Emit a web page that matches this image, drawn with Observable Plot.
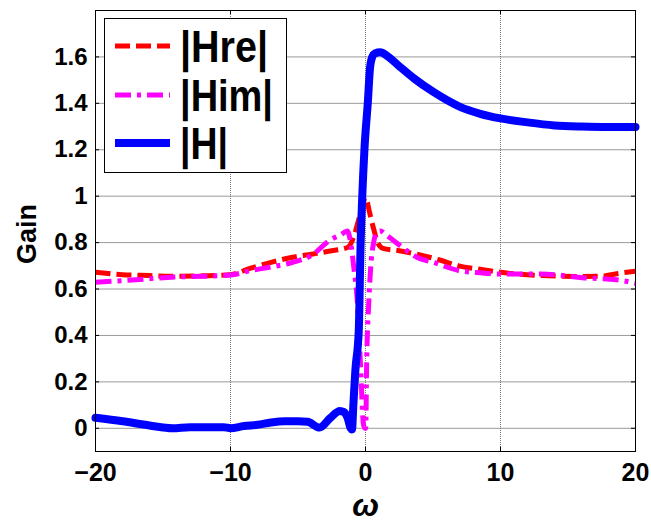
<!DOCTYPE html>
<html>
<head>
<meta charset="utf-8">
<script src="https://cdn.jsdelivr.net/npm/d3@7"></script>
<script src="https://cdn.jsdelivr.net/npm/@observablehq/plot@0.6"></script>
<style>
  html, body { margin: 0; padding: 0; background: #fff; }
  #chart { width: 651px; height: 525px; }
</style>
</head>
<body>
<div id="chart"></div>
<script>
// ---- data ----
const hreOmega = [-20,-18,-16,-14.5,-12,-10,-8.5,-7,-5.4,-4,-2.4,-1.3,-0.9,-0.5,-0.2,0,0.3,0.6,0.9,1.3,2.5,3.8,5.5,6.9,8.5,10,13,16,17.5,18.6,20];
const hreGain  = [0.672,0.662,0.658,0.655,0.657,0.662,0.69,0.715,0.737,0.75,0.766,0.78,0.82,0.9,0.965,0.995,0.93,0.86,0.8,0.775,0.765,0.75,0.725,0.70,0.685,0.672,0.658,0.654,0.655,0.666,0.677];

const himOmega = [-20,-17,-14.7,-12,-10,-8.5,-7,-5.4,-4,-2.65,-1.8,-1.35,-1.1,-0.86,-0.61,-0.36,-0.16,-0.05,0.02,0.08,0.25,0.38,0.6,0.87,1.1,1.6,2.5,3.8,5,6.9,8.5,10,13,16.2,18.6,20];
const himGain  = [0.629,0.64,0.65,0.655,0.66,0.68,0.695,0.715,0.745,0.81,0.835,0.85,0.80,0.69,0.55,0.26,0.02,0.0,0.0,0.26,0.55,0.69,0.80,0.845,0.85,0.83,0.79,0.737,0.715,0.68,0.67,0.665,0.665,0.648,0.64,0.625];

const hOmega = [-20,-18,-16,-14.3,-13,-12,-10.5,-10,-9,-8,-7,-6,-5,-4.3,-3.4,-2.6,-1.9,-1.6,-1.3,-1.1,-1.0,-0.9,-0.75,-0.5,-0.36,-0.24,-0.07,0.18,0.33,0.5,0.7,1.1,1.6,2.5,3.6,5,7,8.5,10,12,14,16,18,20];
const hGain  = [0.045,0.03,0.012,0.0,0.005,0.005,0.005,0.0,0.01,0.015,0.025,0.03,0.03,0.028,0.003,0.045,0.075,0.07,0.04,0.0,-0.005,0.1,0.25,0.42,0.8,1.0,1.21,1.41,1.55,1.6,1.615,1.62,1.605,1.56,1.507,1.45,1.385,1.355,1.335,1.318,1.305,1.3,1.298,1.298];

const seriesNames = ["|Hre|", "|Him|", "|H|"];
const seriesColors = ["#ff0000", "#ff00ff", "#0000ff"];
const xTicks = [-20, -10, 0, 10, 20];
const yTicks = [0, 0.2, 0.4, 0.6, 0.8, 1, 1.2, 1.4, 1.6];
const yTickLabels = ["0", "0.2", "0.4", "0.6", "0.8", "1", "1.2", "1.4", "1.6"];
const xLabel = "ω";
const yLabel = "Gain";

const hre = hreOmega.map((x, i) => ({x, y: hreGain[i]}));
const him = himOmega.map((x, i) => ({x, y: himGain[i]}));
const hh  = hOmega.map((x, i) => ({x, y: hGain[i]}));

const font = "'Liberation Sans', Arial, sans-serif";
const xDom = [-20, 20], yDom = [-0.1, 1.8];
const tx = 0.3, ty = 0.018;

const plot = Plot.plot({
  width: 651,
  height: 525,
  marginLeft: 95,
  marginRight: 16,
  marginTop: 10,
  marginBottom: 74,
  style: {fontFamily: font, background: "#fff", overflow: "visible"},
  x: {domain: xDom},
  y: {domain: yDom},
  marks: [
    Plot.gridY(yTicks, {stroke: "#9a9a9a", strokeOpacity: 1, strokeWidth: 1}),
    Plot.gridX(xTicks.slice(1, -1), {stroke: "#555", strokeOpacity: 1, strokeWidth: 0.8, strokeDasharray: "1,1"}),
    // inward ticks
    Plot.ruleY(yTicks, {y: d => d, x1: xDom[0], x2: xDom[0] + tx, stroke: "#000"}),
    Plot.ruleY(yTicks, {y: d => d, x1: xDom[1] - tx, x2: xDom[1], stroke: "#000"}),
    Plot.ruleX(xTicks, {x: d => d, y1: yDom[0], y2: yDom[0] + ty, stroke: "#000"}),
    Plot.ruleX(xTicks, {x: d => d, y1: yDom[1] - ty, y2: yDom[1], stroke: "#000"}),
    Plot.axisY(yTicks, {tickSize: 0, tickPadding: 8, tickFormat: d => yTickLabels[yTicks.indexOf(d)], fontSize: 24, fontWeight: "bold", fill: "#000", label: null}),
    Plot.axisX(xTicks, {tickSize: 0, tickPadding: 12, tickFormat: d => (d < 0 ? "\u2212" + Math.abs(d) : String(d)), fontSize: 25, fontWeight: "bold", fill: "#000", label: null}),
    Plot.line(hre, {x: "x", y: "y", stroke: seriesColors[0], strokeWidth: 5, strokeDasharray: "15,6", strokeLinecap: "butt", curve: "monotone-x"}),
    Plot.line(him, {x: "x", y: "y", stroke: seriesColors[1], strokeWidth: 5, strokeDasharray: "16,6,4,6", strokeLinecap: "butt", curve: "monotone-x"}),
    Plot.line(hh, {x: "x", y: "y", stroke: seriesColors[2], strokeWidth: 8, strokeLinejoin: "round", strokeLinecap: "round", curve: "monotone-x"}),
    Plot.frame({stroke: "#000", strokeWidth: 1}),
    Plot.text([xLabel], {text: d => d, frameAnchor: "bottom", textAnchor: "middle", lineAnchor: "middle", dy: 54, fontSize: 32, fontStyle: "italic", fontWeight: "bold", fill: "#000"}),
    Plot.text([yLabel], {text: d => d, frameAnchor: "left", textAnchor: "middle", lineAnchor: "middle", dx: -68, dy: 3, rotate: -90, fontSize: 27, fontWeight: "bold", fill: "#000"})
  ]
});

document.getElementById("chart").appendChild(plot);

// legend box (drawn in the SVG)
const svg = d3.select(plot);
const lg = svg.append("g").attr("text-anchor", "start");
lg.append("rect").attr("x", 104.5).attr("y", 18.5).attr("width", 182).attr("height", 154)
  .attr("fill", "#fff").attr("stroke", "#000").attr("stroke-width", 1);
const rowsY = [46, 95, 143];
const dashes = ["15,6", "16,6,4,6", null];
const widths = [5, 5, 8];
const txtLen = [88, 93, 48];
seriesNames.forEach((name, i) => {
  const ln = lg.append("line").attr("x1", 115).attr("x2", 170).attr("y1", rowsY[i]).attr("y2", rowsY[i])
    .attr("stroke", seriesColors[i]).attr("stroke-width", widths[i]);
  if (dashes[i]) ln.attr("stroke-dasharray", dashes[i]);
  lg.append("text").attr("x", 180).attr("y", rowsY[i] + 16)
    .attr("text-anchor", "start")
    .attr("font-family", font).attr("font-size", 44).attr("font-weight", "bold")
    .attr("textLength", txtLen[i]).attr("lengthAdjust", "spacingAndGlyphs")
    .attr("fill", "#000").text(name);
});
</script>
</body>
</html>
